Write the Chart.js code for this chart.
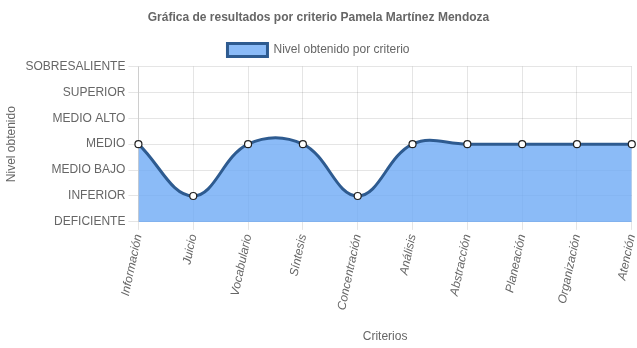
<!DOCTYPE html>
<html>
<head>
<meta charset="utf-8">
<script src="https://cdn.jsdelivr.net/npm/chart.js@4/dist/chart.umd.min.js"></script>
<style>
html,body{margin:0;padding:0;background:#fff;}
#wrap{width:637px;height:348px;position:relative;}
</style>
</head>
<body>
<div id="wrap"><canvas id="c"></canvas></div>
<script>
const categories = ["Información","Juicio","Vocabulario","Síntesis","Concentración","Análisis","Abstracción","Planeación","Organización","Atención"];
const levelLabels = ["DEFICIENTE","INFERIOR","MEDIO BAJO","MEDIO","MEDIO ALTO","SUPERIOR","SOBRESALIENTE"];
const levelValues = [3,1,3,3,1,3,3,3,3,3];

Chart.defaults.font.family = "'Liberation Sans', Arial, sans-serif";
Chart.defaults.color = '#666';

new Chart(document.getElementById('c'), {
  type: 'line',
  data: {
    labels: categories,
    datasets: [{
      label: 'Nivel obtenido por criterio',
      data: levelValues,
      fill: 'origin',
      backgroundColor: 'rgba(110,170,245,0.8)',
      borderColor: '#2e5b90',
      borderWidth: 3,
      tension: 0.4,
      pointRadius: 3.5,
      pointBackgroundColor: '#fff',
      pointBorderColor: '#222',
      pointBorderWidth: 1.2
    }]
  },
  options: {
    responsive: true,
    maintainAspectRatio: false,
    animation: false,
    plugins: {
      title: {
        display: true,
        text: 'Gráfica de resultados por criterio Pamela Martínez Mendoza',
        font: {size: 12, weight: 'bold'},
        color: '#666',
        padding: {top: 10, bottom: 9}
      },
      legend: {
        labels: {
          boxWidth: 40,
          boxHeight: 13,
          font: {size: 12},
          color: '#666'
        }
      },
      tooltip: {enabled: false}
    },
    scales: {
      x: {
        title: {display: true, text: 'Criterios', font: {size: 12}, color: '#666', padding: {top: 15}},
        ticks: {font: {size: 12, style: 'italic'}, color: '#666', minRotation: 78, maxRotation: 78},
        grid: {color: 'rgba(0,0,0,0.1)', tickLength: 8},
        afterFit: (scale) => { scale.paddingRight = 3; }
      },
      y: {
        min: 0, max: 6,
        title: {display: true, text: 'Nivel obtenido', font: {size: 12}, color: '#666'},
        ticks: {
          stepSize: 1,
          font: {size: 12},
          color: '#666',
          callback: (v) => levelLabels[v]
        },
        grid: {color: 'rgba(0,0,0,0.1)', tickLength: 10}
      }
    }
  }
});
</script>
</body>
</html>
